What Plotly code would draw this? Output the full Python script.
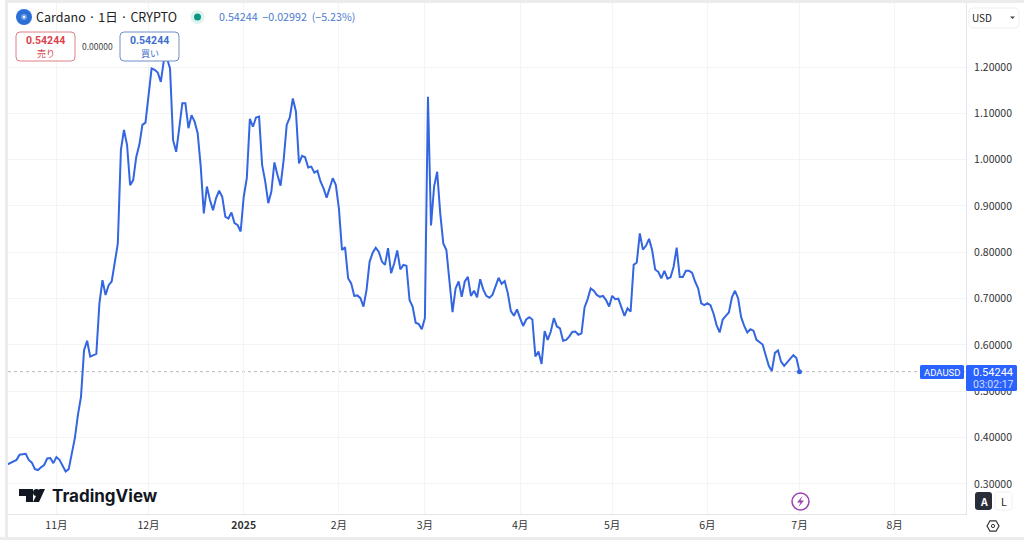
import pandas as pd
import plotly.graph_objects as go

W, H = 1024, 540
start_date = "2024-10-16"
closes = [
 .342,.345,.349,.352,.363,.364,.365,.352,.346,.332,.330,.336,.341,.355,.356,.345,.358,.352,.339,.327,.332,
 .363,.399,.449,.488,.589,.609,.575,.578,.581,.690,.740,.708,.729,.737,.783,.819,1.021,1.064,1.032,.945,
 .956,1.006,1.032,1.075,1.080,1.143,1.197,1.194,1.188,1.168,1.215,1.219,1.197,1.042,1.017,1.068,1.122,1.122,1.068,1.096,
 1.082,1.057,.985,.884,.942,.913,.891,.917,.933,.920,.877,.873,.886,.863,.859,.845,.920,.960,1.088,1.071,
 1.091,1.093,.988,.953,.906,.931,.994,.967,.944,.999,1.075,1.091,1.132,1.104,.992,1.008,1.005,.983,.985,.972,
 .976,.953,.938,.918,.942,.960,.945,.895,.805,.811,.744,.733,.706,.707,.701,.683,.719,.780,.799,.810,
 .801,.780,.773,.809,.755,.776,.804,.763,.773,.771,.697,.683,.648,.645,.634,.658,1.136,.858,.942,.974,
 .884,.819,.805,.740,.671,.722,.737,.704,.737,.747,.706,.717,.703,.742,.720,.706,.702,.708,.726,.745,
 .732,.738,.712,.673,.663,.677,.658,.641,.655,.660,.655,.575,.586,.559,.630,.611,.629,.658,.640,
 .636,.609,.611,.618,.628,.629,.622,.625,.681,.699,.722,.717,.708,.704,.706,.697,.683,.706,.699,.700,
 .681,.663,.679,.672,.773,.778,.841,.806,.814,.829,.805,.763,.758,.744,.760,.743,.746,.769,.810,.747,
 .747,.760,.760,.756,.737,.722,.690,.686,.690,.686,.668,.643,.627,.655,.663,.670,.703,.717,.701,.660,
 .641,.627,.634,.631,.611,.605,.601,.578,.555,.544,.583,.588,.564,.555,.562,.569,.578,.572,.54244]
last_price = 0.54244
y_ticks = [0.3,0.4,0.5,0.6,0.7,0.8,0.9,1.0,1.1,1.2]
x_tick_dates = ["2024-11-01","2024-12-01","2025-01-01","2025-02-01","2025-03-01","2025-04-01","2025-05-01","2025-06-01","2025-07-01","2025-08-01"]
x_tick_labels = ["11月","12月","<b>2025</b>","2月","3月","4月","5月","6月","7月","8月"]

dates = pd.date_range(start_date, periods=len(closes), freq="D")

BLUE = "#3366e0"
TAG = "#2962ff"
GRID = "#f3f4f6"
AXIS = "#e3e5ea"
FONT = "Noto Sans CJK JP, Roboto, sans-serif"
LATIN = "Roboto, Noto Sans, sans-serif"

fig = go.Figure()
fig.add_trace(go.Scatter(x=dates, y=closes, mode="lines", line=dict(color=BLUE, width=2), hoverinfo="skip"))
fig.add_trace(go.Scatter(x=[dates[-1]], y=[closes[-1]], mode="markers", marker=dict(color=BLUE, size=5), hoverinfo="skip"))

def px(x): return x / W
def py(y): return 1 - y / H

shapes, notes = [], []
def rect(x0, y0, x1, y1, fill="white", line=None, lw=1, radius=0, layer="above"):
    if radius:
        r = radius
        def P(a, b): return f"{px(a)},{py(b)}"
        path = (f"M{P(x0+r,y0)} L{P(x1-r,y0)} Q{P(x1,y0)} {P(x1,y0+r)} L{P(x1,y1-r)} Q{P(x1,y1)} {P(x1-r,y1)} "
                f"L{P(x0+r,y1)} Q{P(x0,y1)} {P(x0,y1-r)} L{P(x0,y0+r)} Q{P(x0,y0)} {P(x0+r,y0)} Z")
        shapes.append(dict(type="path", path=path, xref="paper", yref="paper", fillcolor=fill,
                           line=dict(color=line or fill, width=lw if line else 0), layer=layer))
    else:
        shapes.append(dict(type="rect", xref="paper", yref="paper", x0=px(x0), x1=px(x1), y0=py(y0), y1=py(y1),
                           fillcolor=fill, line=dict(color=line or fill, width=lw if line else 0), layer=layer))
def circle(cx, cy, r, fill="white", line=None, lw=1):
    rect_d = dict(type="circle", xref="paper", yref="paper", x0=px(cx-r), x1=px(cx+r), y0=py(cy+r), y1=py(cy-r),
                  fillcolor=fill, line=dict(color=line or fill, width=lw if line else 0), layer="above")
    shapes.append(rect_d)
def poly(points, fill, line=None, lw=1):
    path = "M" + " L".join(f"{px(a)},{py(b)}" for a, b in points) + " Z"
    shapes.append(dict(type="path", path=path, xref="paper", yref="paper", fillcolor=fill,
                       line=dict(color=line or fill, width=lw if line else 0), layer="above"))
def text(x, y, s, size=11, color="#333", anchor="left", family=FONT):
    notes.append(dict(xref="paper", yref="paper", x=px(x), y=py(y), text=s, showarrow=False, xanchor=anchor,
                      yanchor="middle", font=dict(size=size, color=color, family=family), borderpad=0, borderwidth=0))

# frame
rect(0, 0, W, 3, fill="#ececec")
rect(5, 0, 8, H, fill="#ececec")
rect(0, 0, 5, H, fill="white")
rect(0, 537, W, H, fill="#ececec")

# last price dotted line
shapes.append(dict(type="line", xref="paper", yref="y", x0=px(8), x1=px(966), y0=last_price, y1=last_price,
                   line=dict(color="#b4b8c0", width=1, dash="dot"), layer="below"))

# header
circle(24, 17, 8, fill="#2a6fd6")
circle(24, 17, 3, fill="#6f9fe8")
circle(24, 17, 1.2, fill="white")
text(36, 17, "Cardano · 1日 · CRYPTO", size=12.5, color="#222")
circle(197.5, 17, 7, fill="#dff3ee")
circle(197.5, 17, 3.5, fill="#089981")
text(219, 17, "0.54244  −0.02992  (−5.23%)", size=10.7, color="#4a7bd0")

# buy / sell
rect(16, 32, 75, 61, fill="white", line="#dc7f86", radius=4)
text(45.5, 40.5, "<b>0.54244</b>", size=10.5, color="#d9434e", anchor="center", family=LATIN)
text(45.5, 53.5, "売り", size=9, color="#d9434e", anchor="center")
text(97.5, 46, "0.00000", size=8.5, color="#444", anchor="center")
rect(120, 32, 179, 61, fill="white", line="#6f8fc8", radius=4)
text(149.5, 40.5, "<b>0.54244</b>", size=10.5, color="#3f6fd0", anchor="center", family=LATIN)
text(149.5, 53.5, "買い", size=9, color="#3f6fd0", anchor="center")

# USD box
rect(969, 8, 1019, 28, fill="white", line="#eeeff2", radius=4)
text(972, 18, "USD", size=10, color="#222")
poly([(1010, 16.5), (1015, 16.5), (1012.5, 19)], fill="#444")

# price tags
rect(920, 365, 964, 379, fill=TAG, radius=1.5)
text(942, 372, "ADAUSD", size=9.5, color="white", anchor="center", family=LATIN)
rect(966, 365, 1017, 391, fill=TAG, radius=1.5)
text(973, 372, "0.54244", size=11, color="white", family=LATIN)
text(973, 384.5, "03:02:17", size=10.5, color="#cfdcff", family=LATIN)

# TradingView logo
poly([(19, 489), (33, 489), (33, 502), (26, 502), (26, 496), (19, 496)], fill="#131722")
circle(36.5, 492.5, 3.5, fill="#131722")
poly([(39.5, 489), (45, 489), (39, 502), (33, 502)], fill="#131722")
text(51.5, 495.5, "<b>TradingView</b>", size=17, color="#131722", family="Inter, Roboto, sans-serif")

# lightning marker
circle(800.5, 501.5, 8.5, fill="white", line="#9c3fb5", lw=1.5)
poly([(802.5, 496), (797, 502.5), (800.5, 502.5), (798.5, 507), (804, 500.5), (800.5, 500.5)], fill="#9c3fb5")

# A / L buttons
rect(975, 492, 992, 510, fill="#2a2e39", radius=3)
text(983.5, 501, "<b>A</b>", size=10.5, color="white", anchor="center")
rect(995, 492, 1012, 510, fill="white", line="#f0f1f3", radius=3)
text(1003.5, 501, "L", size=10.5, color="#222", anchor="center")

# settings icon
poly([(987, 526), (990, 520.8), (996, 520.8), (999, 526), (996, 531.2), (990, 531.2)], fill="white", line="#333", lw=1.2)
circle(993, 526, 1.6, fill="white", line="#333", lw=1)

fig.update_layout(
    width=W, height=H, autosize=False, showlegend=False,
    margin=dict(l=0, r=0, t=0, b=0, pad=0),
    paper_bgcolor="white", plot_bgcolor="white",
    font=dict(family=FONT, size=11, color="#333"),
    shapes=shapes, annotations=notes,
    xaxis=dict(domain=[px(8), px(966)], range=["2024-10-16 05:30", "2025-08-24 05:30"], tickmode="array",
               tickvals=x_tick_dates, ticktext=x_tick_labels, showgrid=True, gridcolor=GRID, gridwidth=1,
               zeroline=False, showline=True, linecolor=AXIS, linewidth=1, ticks="outside", ticklen=1,
               tickcolor="rgba(0,0,0,0)", tickfont=dict(size=10.5, color="#333", family=FONT), fixedrange=True),
    yaxis=dict(domain=[(H-514)/H, 1], side="right", range=[0.2352, 1.3446], tickmode="array", tickvals=y_ticks,
               tickformat=".5f", showgrid=True, gridcolor=GRID, gridwidth=1, zeroline=False,
               showline=True, linecolor=AXIS, linewidth=1, ticks="outside", ticklen=5,
               tickcolor="rgba(0,0,0,0)", tickfont=dict(size=10.5, color="#333", family=FONT), fixedrange=True),
)

fig.write_html("out.html", config=dict(displayModeBar=False),
               post_script="document.body.style.margin='0';document.body.style.overflow='hidden';")
